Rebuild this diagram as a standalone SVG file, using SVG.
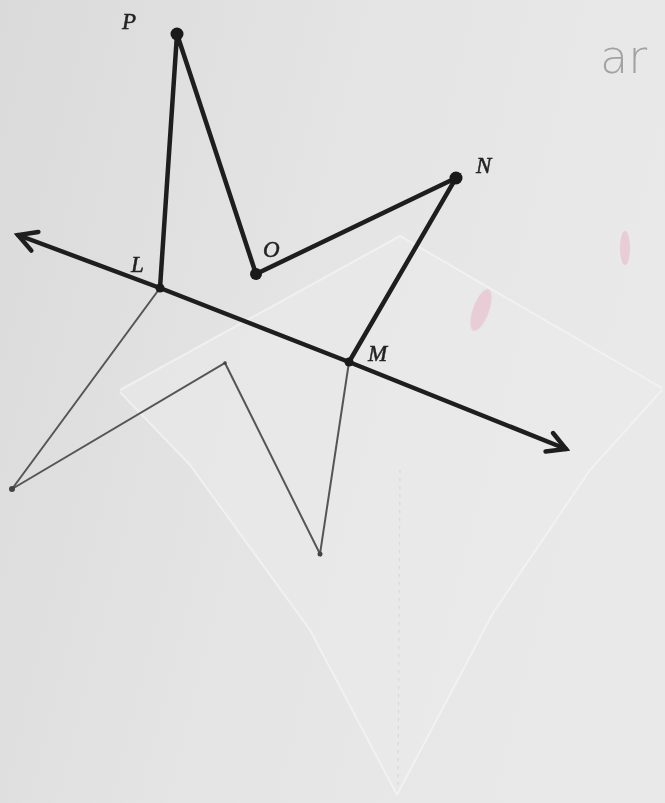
<svg xmlns="http://www.w3.org/2000/svg" width="665" height="803" viewBox="0 0 665 803">
  <defs>
    <linearGradient id="bg" x1="0" y1="0" x2="1" y2="0.3">
      <stop offset="0" stop-color="#dadada"/>
      <stop offset="0.5" stop-color="#e4e4e4"/>
      <stop offset="1" stop-color="#e9e9e9"/>
    </linearGradient>
    <marker id="arr" viewBox="-22 -14 26 28" refX="0" refY="0" markerWidth="26" markerHeight="28" markerUnits="userSpaceOnUse" orient="auto-start-reverse">
      <path d="M-18,-10 L0,0 L-18,10" fill="none" stroke="#1e1e1e" stroke-width="4.5" stroke-linecap="round" stroke-linejoin="miter"/>
    </marker>
    <style>
      .thick { stroke: #1e1e1e; stroke-width: 4.5; fill: none; stroke-linecap: round; }
      .thin { stroke: #555555; stroke-width: 2; fill: none; stroke-linecap: round; }
      .dot { fill: #1a1a1a; }
      .sdot { fill: #444444; }
      .lbl { font-family: "Liberation Serif", "DejaVu Serif", serif; font-style: italic; font-size: 23px; fill: #222222; stroke: #222222; stroke-width: 0.5; }
      .fold { stroke: #f4f4f4; stroke-width: 2; fill: none; opacity: 0.75; }
      .hand { font-family: "DejaVu Sans", "Liberation Sans", sans-serif; font-weight: 200; font-size: 46px; fill: #a2a2a2; }
    </style>
  </defs>

  <!-- paper background -->
  <rect x="0" y="0" width="665" height="803" fill="url(#bg)"/>

  <!-- tracing paper overlay -->
  <g id="tracing-paper">
    <path d="M120,390 L400,236 L662,388 L590,470 L493,613 L397,795 L310,630 L190,465 Z" fill="#ebebeb" opacity="0.5"/>
    <path class="fold" d="M120,390 L400,236 L662,388"/>
    <path class="fold" d="M662,390 L590,470 L493,613 L397,795"/>
    <path class="fold" d="M120,392 L190,465 L310,630 L397,795"/>
    <path d="M400,470 L398,790" stroke="#d2d2d2" stroke-width="1.2" stroke-dasharray="3 5" fill="none" opacity="0.7"/>
  </g>

  <!-- pink smudges -->
  <g id="smudges" opacity="0.35">
    <ellipse cx="481" cy="310" rx="8" ry="22" fill="#e79ab4" transform="rotate(20 481 310)"/>
    <ellipse cx="625" cy="248" rx="5" ry="17" fill="#e79ab4"/>
  </g>

  <!-- connectors -->
  <g id="connectors">
    <line class="thick" x1="160" y1="288" x2="18" y2="235" marker-end="url(#arr)"/>
    <line class="thick" x1="160" y1="288" x2="349" y2="362"/>
    <line class="thick" x1="349" y1="362" x2="566" y2="449" marker-end="url(#arr)"/>
    <polyline class="thick" points="160,288 177,34 256,274 456,178 349,362"/>
    <polyline class="thin" points="160,288 12,489 225,363 320,554 349,362"/>
  </g>

  <!-- nodes -->
  <g id="node-P">
    <circle class="dot" cx="177" cy="34" r="6.5"/>
    <text class="lbl" x="122" y="29">P</text>
  </g>
  <g id="node-O">
    <circle class="dot" cx="256" cy="274" r="6"/>
    <text class="lbl" x="263" y="257">O</text>
  </g>
  <g id="node-N">
    <circle class="dot" cx="456" cy="178" r="6.5"/>
    <text class="lbl" x="476" y="173">N</text>
  </g>
  <g id="node-L">
    <circle class="dot" cx="160" cy="288" r="4.5"/>
    <text class="lbl" x="131" y="272">L</text>
  </g>
  <g id="node-M">
    <circle class="dot" cx="349" cy="362" r="4.5"/>
    <text class="lbl" x="368" y="361">M</text>
  </g>
  <g id="node-lower-left">
    <circle class="sdot" cx="12" cy="489" r="3"/>
  </g>
  <g id="node-lower-mid">
    <circle class="sdot" cx="225" cy="363" r="1.8"/>
  </g>
  <g id="node-lower-bottom">
    <circle class="sdot" cx="320" cy="554" r="2.5"/>
  </g>

  <!-- handwriting -->
  <text class="hand" x="600" y="73">ar</text>
</svg>
